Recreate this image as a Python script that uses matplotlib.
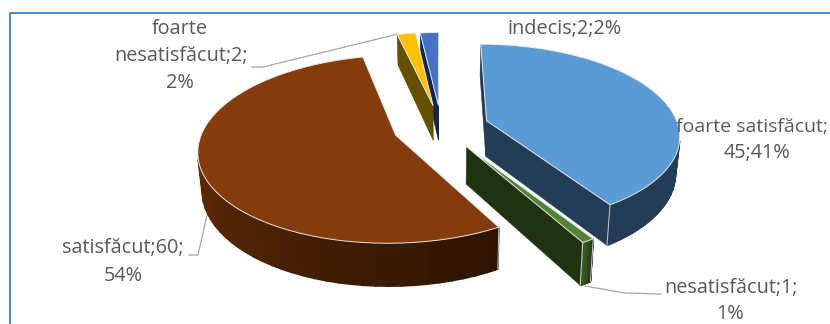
## exploded 3D pie of the satisfaction survey answers

import numpy as np
import matplotlib
matplotlib.use('Agg')
import matplotlib.pyplot as plt
from matplotlib.colors import to_rgb

categories = ['foarte satisfăcut', 'nesatisfăcut', 'satisfăcut', 'foarte nesatisfăcut', 'indecis']
values = [45, 1, 60, 2, 2]
percents = [41, 1, 54, 2, 2]

top_colors = ['#5B9BD5', '#548235', '#843C0C', '#FFC000', '#4472C4']
rim_start = ['#223D55', '#203311', '#2E1400', '#665000', '#1F3864']
rim_end = ['#223D55', '#3A5A22', '#7A360B', '#665000', '#1F3864']
side_colors = ['#223D55', '#203311', '#2E1400', '#665000', '#14264A']

# projection settings (pixels)
CX, CY = 441, 127
A, B = 192, 89.5
PERSP = 0.147
DEPTH = 36
EXPLODE = 0.25
START = 0.0


def project(x, y, z=0.0):
    w = 1 + PERSP * y
    shrink = 1 - 0.018 * z
    return CX + A * x / w * shrink, CY - B * y / w + z * DEPTH / w


def wedge_point(theta, mid, r, z=0.0):
    t, m = np.radians(theta), np.radians(mid)
    x = EXPLODE * np.sin(m) + r * np.sin(t)
    y = EXPLODE * np.cos(m) + r * np.cos(t)
    return project(x, y, z)


def facing(pts):
    # negative area (y pointing down) means the face looks at the viewer
    xs = np.array([p[0] for p in pts])
    ys = np.array([p[1] for p in pts])
    return np.sum(xs * np.roll(ys, -1) - np.roll(xs, -1) * ys) < 0


def draw_face(ax, pts, color, zorder, lw=0.4):
    if facing(pts):
        xs, ys = zip(*pts)
        ax.fill(xs, ys, color=color, lw=lw, zorder=zorder)


def draw_wedge(ax, a0, a1, i, zorder):
    mid = (a0 + a1) / 2
    apex = wedge_point(a0, mid, 0)
    apex_b = wedge_point(a0, mid, 0, 1)
    p0, p0b = wedge_point(a0, mid, 1), wedge_point(a0, mid, 1, 1)
    p1, p1b = wedge_point(a1, mid, 1), wedge_point(a1, mid, 1, 1)

    draw_face(ax, [apex, p0, p0b, apex_b], side_colors[i], zorder)
    draw_face(ax, [p1, apex, apex_b, p1b], side_colors[i], zorder)

    # outer rim in thin strips, so it can carry a colour ramp
    thetas = np.linspace(a0, a1, 61)
    c0, c1 = np.array(to_rgb(rim_start[i])), np.array(to_rgb(rim_end[i]))
    for k in range(len(thetas) - 1):
        t0, t1 = thetas[k], thetas[k + 1]
        f = k / (len(thetas) - 2)
        quad = [wedge_point(t0, mid, 1), wedge_point(t1, mid, 1),
                wedge_point(t1, mid, 1, 1), wedge_point(t0, mid, 1, 1)]
        draw_face(ax, quad, tuple(c0 + (c1 - c0) * min(f * 1.15, 1)), zorder + 0.1, lw=1.2)

    # corner lines and the top face
    for top, bottom in [(p0, p0b), (p1, p1b)]:
        if top[1] > CY:
            ax.plot([top[0], bottom[0]], [top[1], bottom[1]], color='#C8CDD0', lw=0.7, zorder=zorder + 0.2)
    arc = [wedge_point(t, mid, 1) for t in thetas]
    xs, ys = zip(*([apex] + arc))
    ax.fill(xs, ys, facecolor=top_colors[i], edgecolor='#E8E8E8', lw=0.7, zorder=zorder + 0.3)


fig = plt.figure(figsize=(8.3, 3.24), dpi=100)
fig.patch.set_facecolor('white')
ax = fig.add_axes([0, 0, 1, 1])
ax.set_xlim(0, 830)
ax.set_ylim(324, 0)
ax.axis('off')

# chart frame, cut off on the right and at the bottom
ax.plot([9.5, 9.5, 830], [324, 12.5, 12.5], color='#2E75B6', lw=1.2, zorder=1)

spans = np.array(values) / sum(values) * 360
starts = START + np.concatenate(([0], np.cumsum(spans)[:-1]))
order = [4, 3, 2, 0, 1]
for i in order:
    draw_wedge(ax, starts[i], starts[i] + spans[i], i, 3 + order.index(i))

# leader lines
leader = dict(color='#A6A6A6', lw=0.9, zorder=2)
ax.plot([252, 263, 398], [67, 67, 34], **leader)
ax.plot([189, 198, 207], [255, 255, 215], **leader)
ax.plot([661, 625, 585], [294, 293, 286], **leader)

text_style = dict(family='Open Sans', fontsize=14.3, color='#595959', ha='center', va='center', zorder=20)
ax.text(565, 29, '%s;%d;%d%%' % (categories[4], values[4], percents[4]), **text_style)
ax.text(828, 127, '%s;' % categories[0], family='Open Sans', fontsize=14.0, color='#595959',
        ha='right', va='center', zorder=20)
ax.text(757, 153, '%d;%d%%' % (values[0], percents[0]), **text_style)
ax.text(180, 29, 'foarte', **text_style)
ax.text(181, 56, 'nesatisfăcut;%d;' % values[3], **text_style)
ax.text(180, 83, '%d%%' % percents[3], **text_style)
ax.text(123, 248, '%s;%d;' % (categories[2], values[2]), **text_style)
ax.text(123, 276, '%d%%' % percents[2], **text_style)
ax.text(731, 288, '%s;%d;' % (categories[1], values[1]), **text_style)
ax.text(730, 314, '%d%%' % percents[1], **text_style)

fig.savefig('out.png', dpi=100)
